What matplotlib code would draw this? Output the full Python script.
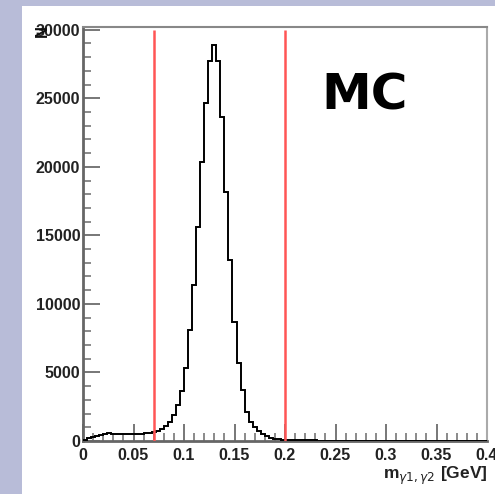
import matplotlib
matplotlib.use("Agg")
import matplotlib.pyplot as plt
import numpy as np
from matplotlib.ticker import MultipleLocator, FixedLocator
from matplotlib import font_manager

# ---- data ----
bin_width = 0.004
n_bins = 100
counts = [
    80, 200, 300, 380, 450, 520, 550, 530, 500, 490,
    480, 480, 500, 520, 540, 570, 610, 660, 720, 850,
    1095, 1410, 1900, 2630, 3670, 5300, 8100, 11390, 15640, 20340,
    24650, 27690, 28860, 27700, 23670, 18200, 13210, 8710, 5670, 3700,
    2100, 1400, 1000, 700, 500, 350, 250, 180, 130, 100,
    80, 70, 60, 55, 50, 45, 40, 40, 35, 30,
    30, 25, 20, 15, 10, 10, 8, 8, 6, 6,
    5, 5, 4, 4, 3, 3, 3, 2, 2, 2,
    2, 2, 1, 1, 1, 1, 1, 1, 1, 1,
    1, 1, 0, 0, 0, 0, 0, 0, 0, 0,
]
cut_lines = [0.07, 0.2]
x_ticks = [0, 0.05, 0.1, 0.15, 0.2, 0.25, 0.3, 0.35, 0.4]
x_ticklabels = ["0", "0.05", "0.1", "0.15", "0.2", "0.25", "0.3", "0.35", "0.4"]
y_ticks = [0, 5000, 10000, 15000, 20000, 25000, 30000]
y_ticklabels = ["0", "5000", "10000", "15000", "20000", "25000", "30000"]
edges = np.arange(n_bins + 1) * bin_width

# font choice
avail = {f.name for f in font_manager.fontManager.ttflist}
tick_font = "Liberation Sans Narrow" if "Liberation Sans Narrow" in avail else "Liberation Sans"

fig = plt.figure(figsize=(4.95, 4.94), dpi=100)
fig.patch.set_facecolor("#b8bcd8")

# white panel as a background axes
bg = fig.add_axes([22 / 495, 0, 1 - 22 / 495, 1 - 6 / 494], zorder=-5)
bg.set_facecolor("white")
bg.set_xticks([])
bg.set_yticks([])
for s in bg.spines.values():
    s.set_visible(False)

ax = fig.add_axes([83 / 495, 53 / 494, (487 - 83) / 495, (441 - 27) / 494], zorder=1)
ax.set_facecolor("white")

ax.stairs(counts, edges, baseline=0, color="black", lw=1.4, zorder=3)
ax.vlines(cut_lines, 0, 30000, color="#ff5555", lw=1.8, zorder=4)

ax.set_xlim(0, 0.4)
ax.set_ylim(0, 30200)

ax.xaxis.set_major_locator(FixedLocator(x_ticks))
ax.set_xticklabels(x_ticklabels)
ax.xaxis.set_minor_locator(MultipleLocator(0.01))
ax.yaxis.set_major_locator(FixedLocator(y_ticks))
ax.set_yticklabels(y_ticklabels)
ax.yaxis.set_minor_locator(MultipleLocator(1000))

ax.tick_params(axis="both", which="major", direction="in", length=12,
               width=1.4, color="#777777")
ax.tick_params(axis="both", which="minor", direction="in", length=6,
               width=1.2, color="#777777")
ax.tick_params(axis="x", which="both", top=False, pad=5)
ax.tick_params(axis="y", which="both", right=False, pad=2)

for lab in ax.get_xticklabels() + ax.get_yticklabels():
    lab.set_fontfamily(tick_font)
    lab.set_fontweight("bold")
    lab.set_fontsize(11.5)
    lab.set_color("#222222")

for side in ["left", "bottom"]:
    ax.spines[side].set_color("#666666")
    ax.spines[side].set_linewidth(2)
ax.spines["top"].set_color("#888888")
ax.spines["top"].set_linewidth(1.5)
ax.spines["right"].set_color("#aaaaaa")
ax.spines["right"].set_linewidth(1.5)

# y-axis title "N" at top
fig.text(42 / 495, 1 - 31 / 494, "N", rotation=90, ha="center", va="center",
         fontsize=12, fontweight="bold", family=tick_font, color="#111111",
         zorder=5)

# x-axis title
fig.text(487 / 495, 1 - 479 / 494, r"m$_{\gamma1,\gamma2}$ [GeV]", ha="right",
         va="baseline", fontsize=12.5, fontweight="bold", family=tick_font,
         color="#222222", zorder=5)

# MC label
fig.text(365 / 495, 1 - 95 / 494, "MC", ha="center", va="center",
         fontsize=36, fontweight="bold", family="DejaVu Sans", color="black",
         zorder=5)

fig.savefig("out.png", dpi=100)
